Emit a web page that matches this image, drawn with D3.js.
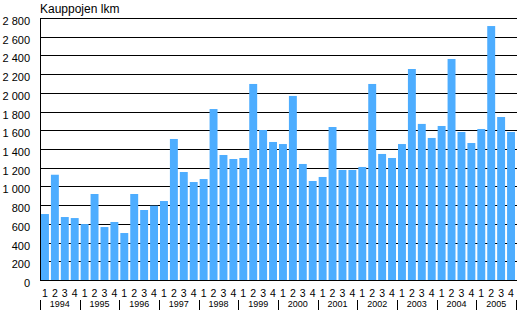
<!DOCTYPE html>
<html><head><meta charset="utf-8">
<script src="https://cdn.jsdelivr.net/npm/d3@7"></script>
<style>body{margin:0;background:#fff}svg{display:block;font-family:"Liberation Sans",Arial,sans-serif}</style>
</head><body><svg id="c" width="517" height="310"></svg>
<script>
const years = ["1994","1995","1996","1997","1998","1999","2000","2001","2002","2003","2004","2005"];
const quarters = ["1","2","3","4"];
const values = [705,1125,673,662, 598,919,566,620, 502,919,748,794, 844,1507,1154,1047,
  1079,1827,1336,1293, 1304,2095,1603,1475, 1453,1967,1240,1058, 1101,1635,1176,1176,
  1208,2095,1347,1304, 1453,2255,1668,1518, 1646,2362,1582,1464, 1614,2714,1742,1582];
const yTicks = [0,200,400,600,800,1000,1200,1400,1600,1800,2000,2200,2400,2600,2800];
const yTitle = "Kauppojen lkm";

const svg = d3.select("#c");
const L = 40, R = 516, T = 18, B = 280;
const keys = [];
years.forEach(y => quarters.forEach(q => keys.push(y + "-" + q)));
const x = d3.scaleBand().domain(keys).range([L, R]).paddingInner(0.2).paddingOuter(0.1);
const y = d3.scaleLinear().domain([0, 2800]).range([B, T]);
const fmt = v => d3.format(",")(v).replace(/,/g, " ");

// gridlines
svg.append("g").selectAll("line").data(yTicks).join("line")
  .attr("x1", L).attr("x2", R + 1)
  .attr("y1", d => Math.round(y(d)) + 0.5).attr("y2", d => Math.round(y(d)) + 0.5)
  .attr("stroke", "#000").attr("stroke-width", 1);

// y labels
svg.append("g").selectAll("text").data(yTicks).join("text")
  .attr("x", 30).attr("y", d => Math.round(y(d)) + 7)
  .attr("text-anchor", "end").attr("font-size", 11).attr("fill", "#000")
  .text(fmt);

svg.append("text").attr("x", 40).attr("y", 13).attr("font-size", 12).attr("fill", "#000").text(yTitle);

// bars
svg.append("g").selectAll("rect").data(values).join("rect")
  .attr("x", (d, i) => x(keys[i])).attr("width", x.bandwidth())
  .attr("y", d => y(d)).attr("height", d => B - y(d))
  .attr("fill", "#4dadff");

// axis lines
svg.append("line").attr("x1", L + 0.5).attr("x2", L + 0.5).attr("y1", T).attr("y2", B + 1).attr("stroke", "#000");
svg.append("line").attr("x1", L).attr("x2", R + 1).attr("y1", B + 0.5).attr("y2", B + 0.5).attr("stroke", "#000");

// quarter labels
svg.append("g").selectAll("text").data(keys).join("text")
  .attr("x", d => x(d) + x.bandwidth() / 2).attr("y", 297)
  .attr("text-anchor", "middle").attr("font-size", 10.5).attr("fill", "#000")
  .text(d => d.split("-")[1]);

// year separators and labels
const step = x.step();
const bounds = d3.range(years.length + 1).map(i => L + i * 4 * step);
svg.append("g").selectAll("line").data(bounds).join("line")
  .attr("x1", d => Math.round(d) + 0.5).attr("x2", d => Math.round(d) + 0.5)
  .attr("y1", 300).attr("y2", 310).attr("stroke", "#000");
svg.append("g").selectAll("text").data(years).join("text")
  .attr("x", (d, i) => (bounds[i] + bounds[i + 1]) / 2).attr("y", 307)
  .attr("text-anchor", "middle").attr("font-size", 9).attr("fill", "#000")
  .text(d => d);
</script></body></html>
